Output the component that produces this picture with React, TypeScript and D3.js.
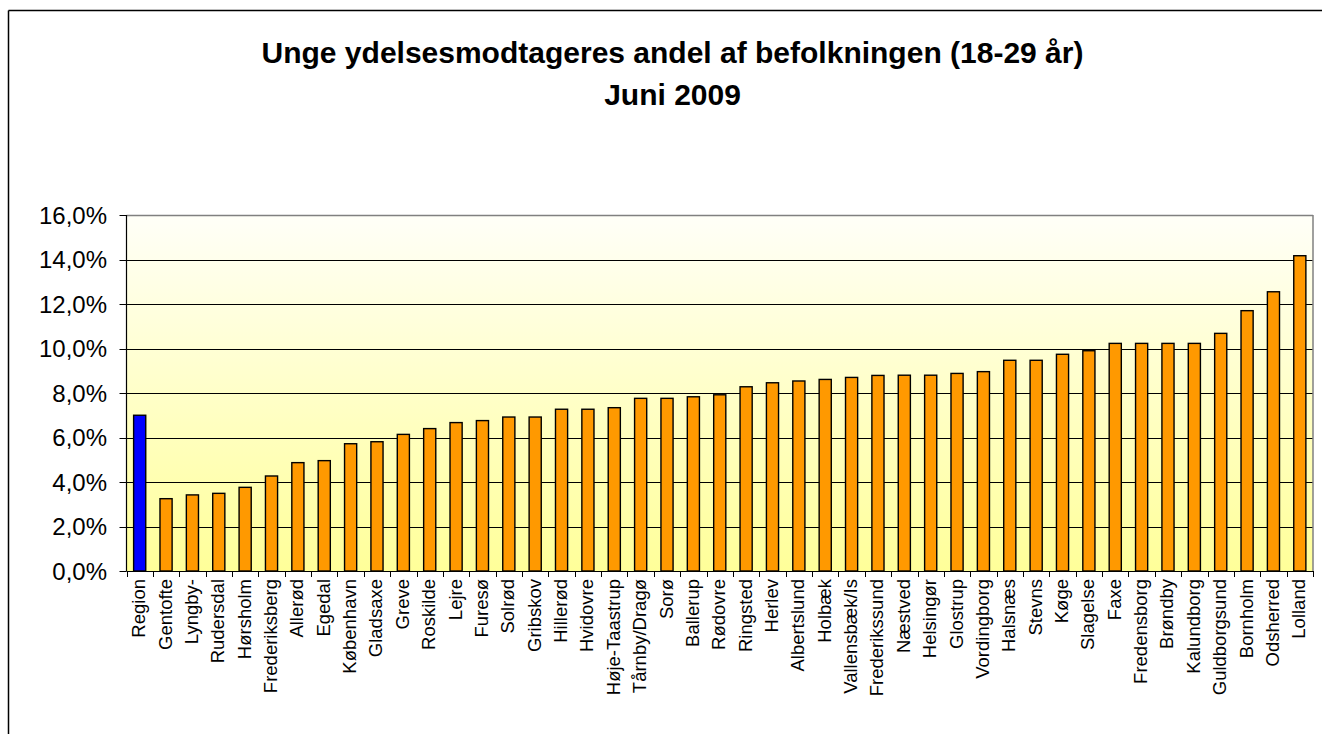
import React from "react";
import * as d3 from "d3";

const categories: string[] = [
  "Region", "Gentofte", "Lyngby-", "Rudersdal", "Hørsholm", "Frederiksberg", "Allerød", "Egedal",
  "København", "Gladsaxe", "Greve", "Roskilde", "Lejre", "Furesø", "Solrød", "Gribskov", "Hillerød",
  "Hvidovre", "Høje-Taastrup", "Tårnby/Dragø", "Sorø", "Ballerup", "Rødovre", "Ringsted", "Herlev",
  "Albertslund", "Holbæk", "Vallensbæk/Is", "Frederikssund", "Næstved", "Helsingør", "Glostrup",
  "Vordingborg", "Halsnæs", "Stevns", "Køge", "Slagelse", "Faxe", "Fredensborg", "Brøndby",
  "Kalundborg", "Guldborgsund", "Bornholm", "Odsherred", "Lolland",
];

const values: number[] = [
  7.0, 3.25, 3.42, 3.49, 3.76, 4.27, 4.87, 4.96,
  5.72, 5.81, 6.14, 6.40, 6.67, 6.76, 6.92, 6.92, 7.27,
  7.27, 7.34, 7.76, 7.76, 7.83, 7.92, 8.28, 8.46,
  8.54, 8.61, 8.70, 8.79, 8.80, 8.80, 8.88,
  8.96, 9.47, 9.47, 9.74, 9.90, 10.23, 10.23, 10.23,
  10.23, 10.68, 11.70, 12.55, 14.17,
];

const yTicks: number[] = [0, 2, 4, 6, 8, 10, 12, 14, 16];

const titleLines: string[] = [
  "Unge ydelsesmodtageres andel af befolkningen (18-29 år)",
  "Juni 2009",
];

const W = 1322;
const H = 734;
const FONT = "Arial, 'Liberation Sans', sans-serif";

export default function App() {
  const left = 126.5;
  const right = 1313;
  const top = 215;
  const bottom = 571;

  const x = d3.scaleBand<string>().domain(categories).range([left, right]).padding(0);
  const y = d3.scaleLinear().domain([0, 16]).range([bottom, top]);
  const bw = x.bandwidth();
  const barW = bw * 0.46;
  const fmt = (v: number) => v.toFixed(1).replace(".", ",") + "%";
  const yFs = 24;
  const xFs = 18.5;

  return (
    <svg
      width={W}
      height={H}
      style={{ position: "absolute", left: 0, top: 0, display: "block" }}
      fontFamily={FONT}
    >
      <defs>
        <linearGradient id="bg" x1="0" y1="0" x2="0" y2="1">
          <stop offset="0%" stopColor="#FFFFF8" />
          <stop offset="100%" stopColor="#FFFF99" />
        </linearGradient>
      </defs>
      <rect x={0} y={0} width={W} height={H} fill="#ffffff" />
      {/* chart frame */}
      <line x1={8.5} y1={10.5} x2={W} y2={10.5} stroke="#000" strokeWidth={1.5} />
      <line x1={8.5} y1={10.5} x2={8.5} y2={H} stroke="#000" strokeWidth={1.5} />

      {/* title */}
      {titleLines.map((t, i) => (
        <text
          key={i}
          x={672.5}
          y={63 + i * 42}
          textAnchor="middle"
          fontSize={30}
          fontWeight="bold"
          fill="#000"
        >
          {t}
        </text>
      ))}

      {/* plot background */}
      <rect x={left} y={top} width={right - left} height={bottom - top} fill="url(#bg)" />

      {/* gridlines */}
      {yTicks.filter((t) => t > 0 && t < 16).map((t) => (
        <line
          key={t}
          x1={left}
          x2={right}
          y1={Math.round(y(t)) + 0.5}
          y2={Math.round(y(t)) + 0.5}
          stroke="#000"
          strokeWidth={1}
        />
      ))}
      {/* plot border top/right */}
      <line x1={left} x2={right} y1={top + 0.5} y2={top + 0.5} stroke="#808080" strokeWidth={1.5} />
      <line x1={right} x2={right} y1={top} y2={bottom} stroke="#808080" strokeWidth={1.5} />

      {/* bars */}
      {categories.map((c, i) => {
        const cx = (x(c) as number) + bw / 2;
        return (
          <rect
            key={c}
            x={cx - barW / 2}
            y={y(values[i])}
            width={barW}
            height={bottom - y(values[i])}
            fill={i === 0 ? "#0000FF" : "#FF9900"}
            stroke="#000"
            strokeWidth={1.4}
          />
        );
      })}

      {/* y axis */}
      <line x1={left} x2={left} y1={top} y2={bottom} stroke="#000" strokeWidth={1.2} />
      {yTicks.map((t) => (
        <g key={t}>
          <line x1={left - 7} x2={left} y1={Math.round(y(t)) + 0.5} y2={Math.round(y(t)) + 0.5} stroke="#000" />
          <text x={107} y={y(t) + yFs * 0.358} textAnchor="end" fontSize={yFs} fill="#000">
            {fmt(t)}
          </text>
        </g>
      ))}

      {/* x axis */}
      <line x1={left} x2={right} y1={bottom + 0.5} y2={bottom + 0.5} stroke="#000" strokeWidth={1.2} />
      {categories.concat([""]).map((c, i) => {
        const xx = Math.round(left + i * bw) + 0.5;
        return <line key={"t" + i} x1={xx} x2={xx} y1={bottom} y2={bottom + 6} stroke="#000" />;
      })}
      {categories.map((c) => {
        const cx = (x(c) as number) + bw / 2 + 5.5;
        const ty = bottom + 8;
        return (
          <text
            key={"l" + c}
            x={cx}
            y={ty}
            transform={`rotate(-90, ${cx}, ${ty})`}
            textAnchor="end"
            fontSize={xFs}
            fill="#000"
          >
            {c}
          </text>
        );
      })}
    </svg>
  );
}
